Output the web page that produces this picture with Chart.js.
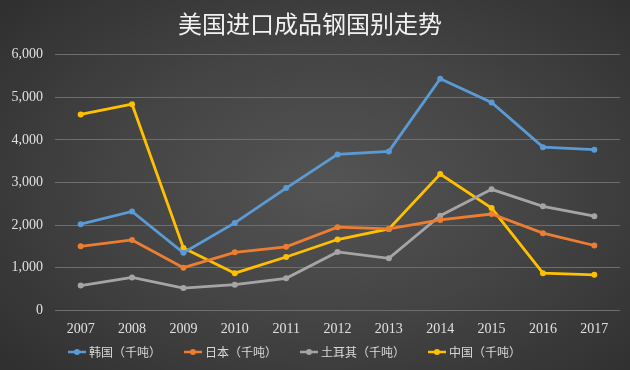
<!DOCTYPE html>
<html><head><meta charset="utf-8">
<script src="https://cdn.jsdelivr.net/npm/chart.js@4"></script>
<style>
html,body{margin:0;padding:0;background:#333;}
#wrap{width:630px;height:370px;position:relative;
background: radial-gradient(ellipse 75% 80% at 52% 50%, #545454 0%, #444 45%, #2c2c2c 100%);}
canvas{display:block;}
</style></head>
<body><div id="wrap"><canvas id="c" width="630" height="370"></canvas></div>
<script>
const title = '美国进口成品钢国别走势';
const years = ['2007','2008','2009','2010','2011','2012','2013','2014','2015','2016','2017'];
const seriesNames = ['韩国（千吨）','日本（千吨）','土耳其（千吨）','中国（千吨）'];
const korea  = [2020, 2320, 1350, 2050, 2870, 3660, 3730, 5440, 4880, 3830, 3770];
const japan  = [1500, 1650, 1000, 1360, 1490, 1950, 1910, 2120, 2260, 1810, 1520];
const turkey = [580, 770, 520, 600, 750, 1370, 1220, 2220, 2840, 2440, 2210];
const china  = [4600, 4840, 1460, 870, 1250, 1660, 1910, 3200, 2400, 870, 830];
const yTicks = [0, 1000, 2000, 3000, 4000, 5000, 6000];
const colors = ['#5b9bd5', '#ed7d31', '#a5a5a5', '#ffc000'];

function marker(color){
  const c = document.createElement('canvas');
  c.width = 18; c.height = 8;
  const g = c.getContext('2d');
  g.strokeStyle = color; g.lineWidth = 2.5;
  g.beginPath(); g.moveTo(0,4); g.lineTo(18,4); g.stroke();
  g.fillStyle = color; g.beginPath(); g.arc(9,4,3,0,Math.PI*2); g.fill();
  return c;
}

const data = [korea, japan, turkey, china];
const datasets = data.map((d,i)=>({
  label: seriesNames[i], data: d,
  borderColor: colors[i], backgroundColor: colors[i],
  borderWidth: 2.8, pointRadius: 3, pointBorderWidth: 0,
  pointStyle: 'circle', tension: 0, fill: false
}));

const shiftLegend = {
  id: 'shiftLegend',
  afterLayout(chart){
    const L = chart.legend;
    L.top -= 29; L.bottom -= 29;
    L.left -= 14; L.right -= 14;
  }
};

new Chart(document.getElementById('c'), {
  type: 'line',
  data: { labels: years, datasets },
  plugins: [shiftLegend],
  options: {
    responsive: false, animation: false,
    devicePixelRatio: 1,
    layout: { padding: { left: 0, right: 10, top: 0, bottom: -27 } },
    plugins: {
      title: { display: true, text: title, color: '#f2f2f2',
        font: { family: '"Noto Sans CJK SC", sans-serif', size: 24, weight: 'normal' },
        padding: { top: 9, bottom: 17 } },
      legend: { position: 'bottom',
        labels: { color: '#d9d9d9', boxWidth: 18, padding: 26,
          font: { family: '"Noto Sans CJK SC", serif', size: 12 },
          generateLabels(chart){
            return chart.data.datasets.map((ds,i)=>({
              text: ds.label, fillStyle: ds.borderColor, strokeStyle: ds.borderColor,
              pointStyle: marker(ds.borderColor), datasetIndex: i, lineWidth: 0,
              fontColor: '#d9d9d9', hidden: false
            }));
          },
          usePointStyle: true
        } },
      tooltip: { enabled: false }
    },
    scales: {
      x: { offset: true,
        grid: { display: false, drawTicks: false },
        border: { display: false },
        ticks: { color: '#e0e0e0', padding: 11,
          font: { family: '"Liberation Serif", serif', size: 14 } } },
      y: { min: 0, max: 6000,
        afterBuildTicks(s){ s.ticks = yTicks.map(v=>({value:v})); },
        afterFit(s){ s.width = 55; s.paddingTop = 0; s.paddingBottom = 0; },
        grid: { color: '#6e6e6e', lineWidth: 1, drawTicks: false },
        border: { display: false },
        ticks: { color: '#e0e0e0', padding: 12,
          font: { family: '"Liberation Serif", serif', size: 14 },
          callback: v => v.toLocaleString('en-US') } }
    }
  }
});
</script>
</body></html>
